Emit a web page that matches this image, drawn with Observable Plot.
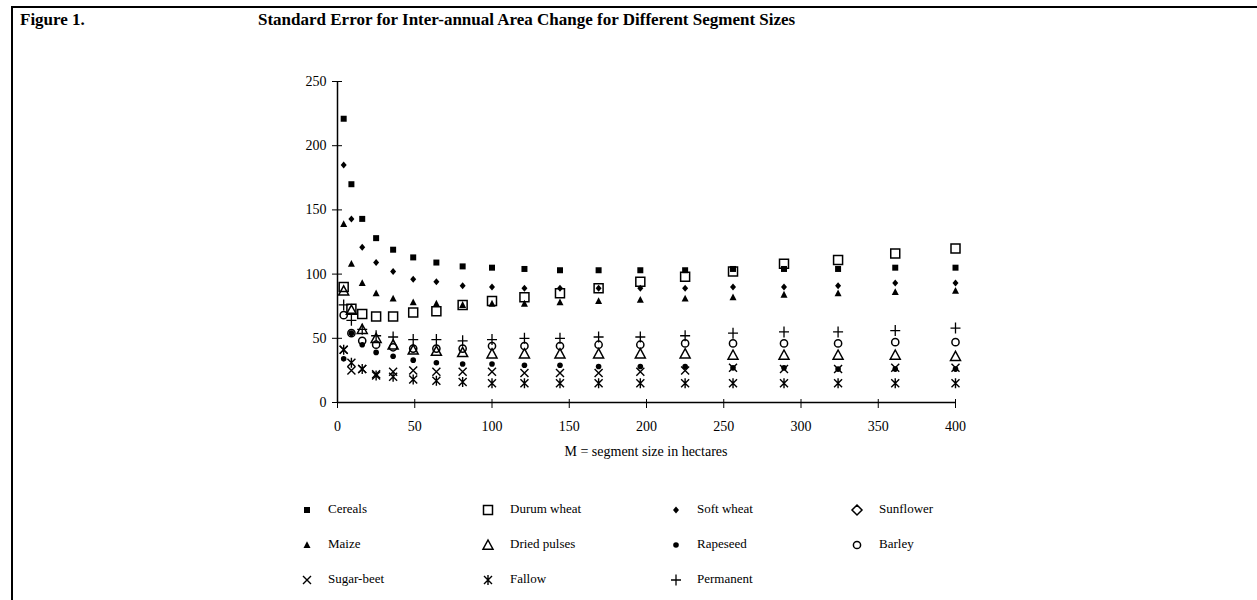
<!DOCTYPE html>
<html><head><meta charset="utf-8">
<script src="https://cdn.jsdelivr.net/npm/d3@7"></script>
<script src="https://cdn.jsdelivr.net/npm/@observablehq/plot@0.6"></script>
<style>
body{margin:0;background:#fff;font-family:"Liberation Serif","Times New Roman",serif;color:#000;}
#wrap{position:relative;width:1257px;height:600px;overflow:hidden;}
#frame{position:absolute;left:11px;top:6px;width:1300px;height:700px;border-left:2px solid #000;border-top:2px solid #000;}
.t{position:absolute;font-weight:bold;font-size:17px;white-space:nowrap;}
#xlabel{position:absolute;font-size:14px;white-space:nowrap;transform:translateX(-50%);}
.leg{position:absolute;font-size:13px;white-space:nowrap;}
#chart{position:absolute;left:0;top:0;}
</style></head>
<body><div id="wrap"><div id="frame"></div>
<div class="t" style="left:20px;top:10px;">Figure 1.</div>
<div class="t" style="left:258px;top:10px;">Standard Error for Inter-annual Area Change for Different Segment Sizes</div>
<div id="chart"></div>
<div id="xlabel" style="left:646px;top:444px;">M = segment size in hectares</div>
<div id="legend"></div>
</div>
<script>
const segmentSizes = [4,9,16,25,36,49,64,81,100,121,144,169,196,225,256,289,324,361,400];
const cereals     = [221,170,143,128,119,113,109,106,105,104,103,103,103,103,104,104,104,105,105];
const durumWheat  = [90,73,69,67,67,70,71,76,79,82,85,89,94,98,102,108,111,116,120];
const softWheat   = [185,143,121,109,102,96,94,91,90,89,89,89,89,89,90,90,91,93,93];
const sunflower   = [null,null,null,null,null,null,null,null,null,null,null,null,null,null,null,null,null,null,null];
const maize       = [139,108,93,85,81,78,77,76,77,77,78,79,80,81,82,84,85,86,87];
const driedPulses = [87,72,57,50,45,41,40,39,38,38,38,38,38,38,37,37,37,37,36];
const rapeseed    = [34,54,45,39,36,33,31,30,30,29,29,28,28,28,27,27,26,26,26];
const barley      = [68,54,48,45,43,42,42,42,44,44,44,45,45,46,46,46,46,47,47];
const sugarBeet   = [41,25,26,22,24,25,24,24,24,23,23,23,24,25,27,26,26,27,27];
const fallow      = [41,31,26,21,20,18,17,16,15,15,15,15,15,15,15,15,15,15,15];
const permanent   = [76,64,57,52,51,49,49,48,49,50,50,51,51,52,54,55,55,56,58];
const xTicks = [0,50,100,150,200,250,300,350,400];
const yTicks = [0,50,100,150,200,250];
const seriesNames = ["Cereals","Durum wheat","Soft wheat","Sunflower","Maize","Dried pulses","Rapeseed","Barley","Sugar-beet","Fallow","Permanent"];
const seriesValues = [cereals,durumWheat,softWheat,sunflower,maize,driedPulses,rapeseed,barley,sugarBeet,fallow,permanent];

// custom marker shapes
const sym = {
  sqFill:{draw(c){c.rect(-3,-3,6,6);}},
  sqHollow:{draw(c){c.rect(-4.5,-4.5,9,9);}},
  diaFill:{draw(c){c.moveTo(0,-3.5);c.lineTo(3,0);c.lineTo(0,3.5);c.lineTo(-3,0);c.closePath();}},
  diaHollow:{draw(c){c.moveTo(0,-5);c.lineTo(5,0);c.lineTo(0,5);c.lineTo(-5,0);c.closePath();}},
  triFill:{draw(c){c.moveTo(0,-3.8);c.lineTo(3.5,3);c.lineTo(-3.5,3);c.closePath();}},
  triHollow:{draw(c){c.moveTo(0,-5);c.lineTo(5,4.2);c.lineTo(-5,4.2);c.closePath();}},
  dotFill:{draw(c){c.moveTo(2.8,0);c.arc(0,0,2.8,0,2*Math.PI);}},
  circHollow:{draw(c){c.moveTo(3.6,0);c.arc(0,0,3.6,0,2*Math.PI);}},
  times:{draw(c){c.moveTo(-4,-4);c.lineTo(4,4);c.moveTo(4,-4);c.lineTo(-4,4);}},
  star:{draw(c){c.moveTo(-4,-4);c.lineTo(4,4);c.moveTo(4,-4);c.lineTo(-4,4);c.moveTo(0,-5);c.lineTo(0,5);}},
  plus:{draw(c){c.moveTo(-5,0);c.lineTo(5,0);c.moveTo(0,-5.5);c.lineTo(0,5.5);}}
};
const styles = [
  {s:sym.sqFill, filled:true},
  {s:sym.sqHollow, filled:false, w:1.5},
  {s:sym.diaFill, filled:true},
  {s:sym.diaHollow, filled:false, w:1.5},
  {s:sym.triFill, filled:true},
  {s:sym.triHollow, filled:false, w:1.5},
  {s:sym.dotFill, filled:true},
  {s:sym.circHollow, filled:false, w:1.5},
  {s:sym.times, filled:false, w:1.4},
  {s:sym.star, filled:false, w:1.4},
  {s:sym.plus, filled:false, w:1.3}
];

const dotMarks = seriesNames.map((name,i) => {
  const data = segmentSizes.map((x,j)=>({x, y: seriesValues[i][j]})).filter(d=>d.y!=null);
  const st = styles[i];
  return Plot.dot(data, {x:"x", y:"y", symbol: st.s, r:3,
    fill: st.filled ? "black" : "none",
    stroke: st.filled ? "none" : "black",
    strokeWidth: st.w || 1});
});

const plot = Plot.plot({
  width:1257, height:470,
  marginLeft:337, marginRight:302, marginTop:81, marginBottom:68,
  style:{fontFamily:"Liberation Serif, Times New Roman, serif", fontSize:"14px", color:"black", background:"transparent", overflow:"visible"},
  x:{domain:[0,400]},
  y:{domain:[0,250]},
  marks:[
    Plot.axisY({ticks:yTicks, tickSize:5, tickPadding:6, label:null, fontSize:14}),
    Plot.axisY({ticks:yTicks, tickSize:5, dx:5, tickFormat:()=>"", label:null}),
    Plot.axisX({ticks:xTicks, tickSize:6, tickPadding:13, label:null, fontSize:14}),
    Plot.axisX({ticks:xTicks, tickSize:3, dy:-3, tickFormat:()=>"", label:null}),
    Plot.ruleX([0], {stroke:"black", strokeWidth:1.5}),
    Plot.ruleY([0], {stroke:"black", strokeWidth:1.5}),
    ...dotMarks
  ]
});
document.getElementById("chart").appendChild(plot);

// legend
const legCols = [{sx:307,tx:328},{sx:488,tx:510},{sx:676,tx:697},{sx:857,tx:879}];
const legRows = [510,545,580];
const leg = d3.select("#legend");
seriesNames.forEach((name,i)=>{
  const col = legCols[i%4], row = legRows[Math.floor(i/4)];
  const st = styles[i];
  const p = d3.path(); st.s.draw(p);
  const svg = leg.append("svg").attr("width",16).attr("height",16)
    .style("position","absolute").style("left",(col.sx-8)+"px").style("top",(row-8)+"px").style("overflow","visible");
  svg.append("path").attr("transform","translate(8,8)").attr("d",p.toString())
    .attr("fill", st.filled?"black":"none").attr("stroke", st.filled?"none":"black").attr("stroke-width", st.w||1);
  leg.append("div").attr("class","leg").style("left",col.tx+"px").style("top",(row-9)+"px").text(name);
});
</script></body></html>
